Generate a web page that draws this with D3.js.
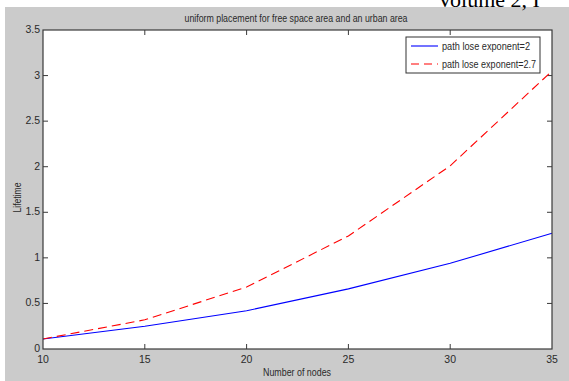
<!DOCTYPE html>
<html>
<head>
<meta charset="utf-8">
<script src="https://cdn.jsdelivr.net/npm/d3@7"></script>
<style>
  body { margin: 0; background: #fff; }
  svg { display: block; }
  .lbl { font-family: "Liberation Sans", Arial, sans-serif; fill: #2a2a2a; }
</style>
</head>
<body>
<div id="chart"></div>
<script>
// chart data
const nodes = [10, 15, 20, 25, 30, 35];
const exp2 = [0.11, 0.25, 0.42, 0.66, 0.94, 1.27];
const exp27 = [0.11, 0.32, 0.68, 1.24, 2.01, 3.05];
const xTicks = [10, 15, 20, 25, 30, 35];
const yTicks = [0, 0.5, 1, 1.5, 2, 2.5, 3, 3.5];
const seriesNames = ['path lose exponent=2', 'path lose exponent=2.7'];

const width = 569, height = 381;
const margin = { top: 30, right: 17, bottom: 32, left: 43 };
const plotW = width - margin.left - margin.right;
const plotH = height - margin.top - margin.bottom;

const svg = d3.select('#chart').append('svg')
    .attr('width', width)
    .attr('height', height);

// figure background
svg.append('rect')
    .attr('x', 5).attr('y', 7)
    .attr('width', width - 5).attr('height', height - 7)
    .style('fill', '#cbcbcb');

// page header fragment (cut at the top edge in the source scan)
svg.append('text')
    .attr('x', 437).attr('y', 7)
    .style('font-family', '"Liberation Serif", serif')
    .style('font-size', '22px')
    .style('fill', '#000')
    .text('Volume 2, I');

const x = d3.scaleLinear().domain([10, 35]).range([0, plotW]);
const y = d3.scaleLinear().domain([0, 3.5]).range([plotH, 0]);

const g = svg.append('g')
    .attr('transform', `translate(${margin.left}, ${margin.top})`);

g.append('rect')
    .attr('width', plotW).attr('height', plotH)
    .style('fill', '#fff');

// inward ticks on all four sides
const tickLen = 5;
const tickStroke = '#3a3a3a';
g.selectAll('line.xt')
    .data(xTicks.slice(1, -1))
    .enter().append('line')
    .attr('x1', d => x(d)).attr('x2', d => x(d))
    .attr('y1', plotH).attr('y2', plotH - tickLen)
    .style('stroke', tickStroke);
g.selectAll('line.xtt')
    .data(xTicks.slice(1, -1))
    .enter().append('line')
    .attr('x1', d => x(d)).attr('x2', d => x(d))
    .attr('y1', 0).attr('y2', tickLen)
    .style('stroke', tickStroke);
g.selectAll('line.yt')
    .data(yTicks.slice(1, -1))
    .enter().append('line')
    .attr('x1', 0).attr('x2', tickLen)
    .attr('y1', d => y(d)).attr('y2', d => y(d))
    .style('stroke', tickStroke);
g.selectAll('line.ytr')
    .data(yTicks.slice(1, -1))
    .enter().append('line')
    .attr('x1', plotW).attr('x2', plotW - tickLen)
    .attr('y1', d => y(d)).attr('y2', d => y(d))
    .style('stroke', tickStroke);

// tick labels
g.selectAll('text.xl')
    .data(xTicks)
    .enter().append('text')
    .attr('class', 'lbl')
    .attr('x', d => x(d))
    .attr('y', plotH + 14)
    .attr('text-anchor', 'middle')
    .style('font-size', '10.5px')
    .text(d => d);
g.selectAll('text.yl')
    .data(yTicks)
    .enter().append('text')
    .attr('class', 'lbl')
    .attr('x', -3)
    .attr('y', d => y(d) + 3)
    .attr('text-anchor', 'end')
    .style('font-size', '10.5px')
    .text(d => d);

// lines
const line = vals => d3.line()
    .x((d, i) => x(nodes[i]))
    .y(d => y(d))(vals);

g.append('path')
    .attr('d', line(exp2))
    .style('fill', 'none')
    .style('stroke', '#0000ff')
    .style('stroke-width', 1.1);

g.append('path')
    .attr('d', line(exp27))
    .style('fill', 'none')
    .style('stroke', '#ff0000')
    .style('stroke-width', 1.1)
    .style('stroke-dasharray', '9,5');

// plot box
g.append('rect')
    .attr('width', plotW).attr('height', plotH)
    .style('fill', 'none')
    .style('stroke', '#3a3a3a')
    .style('stroke-width', 1.2);

// legend
const lg = g.append('g').attr('transform', `translate(${363}, ${7})`);
lg.append('rect')
    .attr('width', 134).attr('height', 36)
    .style('fill', '#fff')
    .style('stroke', '#333')
    .style('stroke-width', 1);
const legendItems = [
    { name: seriesNames[0], color: '#0000ff', dash: null, len: 88 },
    { name: seriesNames[1], color: '#ff0000', dash: '8,5', len: 94 }
];
legendItems.forEach((d, i) => {
    const yy = 9 + i * 18;
    lg.append('line')
        .attr('x1', 5).attr('x2', 32)
        .attr('y1', yy).attr('y2', yy)
        .style('stroke', d.color)
        .style('stroke-width', 1.1)
        .style('stroke-dasharray', d.dash);
    lg.append('text')
        .attr('class', 'lbl')
        .attr('x', 36).attr('y', yy + 4)
        .attr('textLength', d.len)
        .attr('lengthAdjust', 'spacingAndGlyphs')
        .style('font-size', '11px')
        .text(d.name);
});

// titles
svg.append('text')
    .attr('class', 'lbl')
    .attr('x', 296)
    .attr('y', 22)
    .attr('text-anchor', 'middle')
    .attr('textLength', 223)
    .attr('lengthAdjust', 'spacingAndGlyphs')
    .style('font-size', '11px')
    .text('uniform placement for free space area and an urban area');

svg.append('text')
    .attr('class', 'lbl')
    .attr('x', 297)
    .attr('y', 376)
    .attr('text-anchor', 'middle')
    .attr('textLength', 68)
    .attr('lengthAdjust', 'spacingAndGlyphs')
    .style('font-size', '11px')
    .text('Number of nodes');

svg.append('text')
    .attr('class', 'lbl')
    .attr('transform', `translate(21, ${margin.top + plotH / 2 + 8}) rotate(-90)`)
    .attr('text-anchor', 'middle')
    .attr('textLength', 30)
    .attr('lengthAdjust', 'spacingAndGlyphs')
    .style('font-size', '11px')
    .text('Lifetime');
</script>
</body>
</html>
